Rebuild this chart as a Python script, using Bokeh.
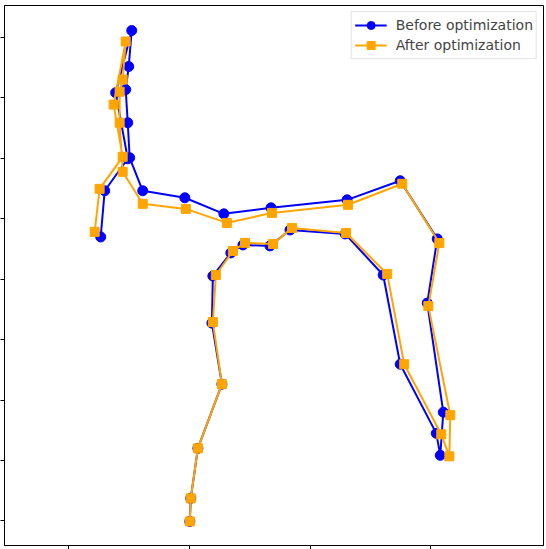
from bokeh.plotting import figure
from bokeh.models import Range1d, FixedTicker
from bokeh.embed import file_html
from bokeh.resources import INLINE

# Keypoint coordinates (image coordinates, y downward)
before_x = [200.4, 201.2, 207.1, 227.0, 218.7, 219.5, 234.4, 244.4, 266.8, 283.4, 329.1,
            360.6, 374.7, 404.6, 407.9, 410.4, 397.1, 405.4, 374.7, 330.7, 267.7, 228.6,
            196.3, 161.4, 150.6, 149.0, 147.3, 149.8, 152.3, 139.0, 149.0, 129.9, 126.6]
before_y = [450.4, 431.3, 389.9, 336.8, 286.3, 247.3, 228.2, 221.6, 222.4, 209.2, 212.5,
            246.5, 320.3, 377.5, 395.7, 360.0, 269.7, 216.6, 168.5, 184.3, 190.9, 195.9,
            182.6, 176.8, 149.5, 120.5, 93.1, 74.0, 44.2, 95.6, 150.3, 176.8, 215.0]

after_x = [200.4, 201.2, 207.1, 227.0, 219.5, 222.0, 236.1, 246.1, 269.3, 285.1, 329.9,
           363.9, 378.0, 408.7, 415.4, 416.2, 398.0, 407.1, 376.4, 331.5, 268.5, 231.1,
           197.1, 161.4, 144.8, 142.3, 142.3, 144.8, 147.3, 137.3, 144.8, 125.7, 121.6]
after_y = [450.4, 431.3, 389.9, 336.8, 285.4, 246.5, 226.6, 219.9, 220.8, 207.5, 211.7,
           245.6, 320.3, 378.3, 396.5, 362.5, 272.2, 220.0, 171.0, 188.4, 195.1, 203.4,
           191.8, 187.6, 161.1, 120.5, 94.8, 84.8, 53.3, 105.5, 148.7, 175.2, 210.8]

x_ticks = [100, 200, 300, 400]
y_ticks = [50, 100, 150, 200, 250, 300, 350, 400, 450]

p = figure(width=546, height=549, output_backend="svg", toolbar_location=None,
           x_range=Range1d(46.9, 493.4), y_range=Range1d(470.3, 23.5),
           min_border_left=0, min_border_right=3, min_border_top=5, min_border_bottom=0)

p.line(before_x, before_y, color="blue", line_width=2, legend_label="Before optimization")
p.scatter(before_x, before_y, marker="circle", size=10, color="blue",
          legend_label="Before optimization")
p.line(after_x, after_y, color="orange", line_width=2, legend_label="After optimization")
p.scatter(after_x, after_y, marker="square", size=9, color="orange",
          legend_label="After optimization")

p.xgrid.visible = False
p.ygrid.visible = False
p.outline_line_color = "black"
p.outline_line_width = 1
p.background_fill_color = "white"
p.border_fill_color = "white"

p.xaxis.ticker = FixedTicker(ticks=x_ticks)
p.yaxis.ticker = FixedTicker(ticks=y_ticks)
for ax in (p.xaxis[0], p.yaxis[0]):
    ax.major_label_text_font_size = "0px"
    ax.major_label_standoff = 0
    ax.major_tick_out = 4
    ax.major_tick_in = 0
    ax.minor_tick_out = 0
    ax.minor_tick_in = 0
    ax.axis_line_color = "black"
    ax.major_tick_line_color = "black"

p.legend.location = "top_right"
p.legend.label_text_font = "DejaVu Sans"
p.legend.label_text_font_size = "14px"
p.legend.border_line_color = "#cccccc"
p.legend.border_line_width = 1
p.legend.background_fill_alpha = 0.9
p.legend.glyph_width = 32
p.legend.glyph_height = 20
p.legend.label_standoff = 9
p.legend.spacing = 0
p.legend.padding = 3
p.legend.margin = 6
p.legend.label_height = 20

open("out.html", "w").write(file_html(p, INLINE))
